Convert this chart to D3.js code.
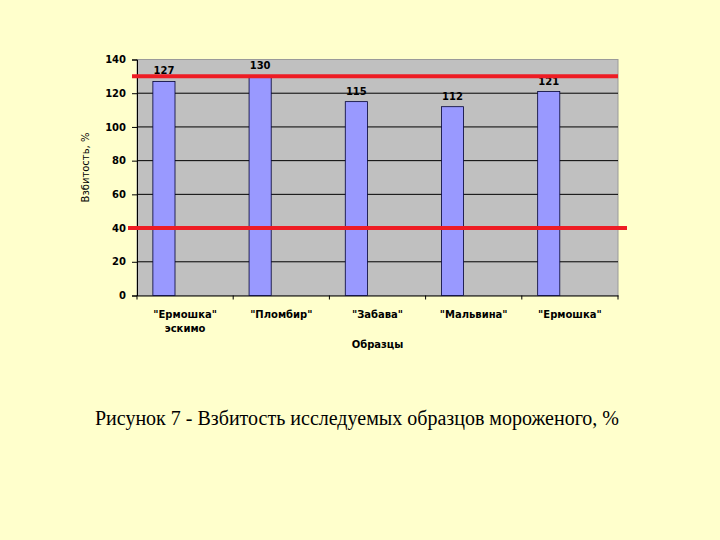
<!DOCTYPE html>
<html>
<head>
<meta charset="utf-8">
<script src="https://cdn.jsdelivr.net/npm/d3@7"></script>
<style>
  body { margin: 0; background: #ffffcc; }
  svg { display: block; }
</style>
</head>
<body>
<svg class="chart" width="720" height="540"></svg>
<script>
// data
const categories = ['"Ермошка"\nэскимо', '"Пломбир"', '"Забава"', '"Мальвина"', '"Ермошка"'];
const values = [127, 130, 115, 112, 121];
const limits = [130, 40];
const yTicks = [0, 20, 40, 60, 80, 100, 120, 140];
const yTitle = "Взбитость, %";
const xTitle = "Образцы";
const caption = "Рисунок 7 - Взбитость исследуемых образцов мороженого, %";

const svg = d3.select(".chart");
const plotLeft = 137, plotRight = 618, plotTop = 59.5, plotBottom = 295.5;

const x = d3.scaleBand().domain(d3.range(categories.length)).range([plotLeft, plotRight]);
const y = d3.scaleLinear().domain([0, 140]).range([plotBottom, plotTop]);

// plot area
svg.append("rect")
    .attr("x", plotLeft).attr("y", plotTop)
    .attr("width", plotRight - plotLeft).attr("height", plotBottom - plotTop)
    .attr("fill", "#c0c0c0")
    .attr("stroke", "#9a9a9a");

// gridlines
svg.selectAll(".grid")
    .data(yTicks.filter(d => d > 0 && d < 140))
    .enter().append("line")
    .attr("x1", plotLeft).attr("x2", plotRight)
    .attr("y1", d => y(d)).attr("y2", d => y(d))
    .attr("stroke", "#000").attr("stroke-width", 1);

// y axis
const yAxis = svg.append("g")
    .attr("transform", `translate(${plotLeft},0)`)
    .call(d3.axisLeft(y).tickValues(yTicks).tickSize(5).tickPadding(6));
yAxis.select(".domain").attr("stroke", "#000");
yAxis.selectAll("text")
    .attr("font-family", "DejaVu Sans").attr("font-size", 10).attr("font-weight", "bold").attr("fill", "#000");

// x axis
const xAxis = svg.append("g")
    .attr("transform", `translate(0,${plotBottom})`)
    .call(d3.axisBottom(x).tickSize(0).tickFormat(""));
xAxis.select(".domain").attr("stroke", "#000");
xAxis.selectAll(".cat-tick")
    .data(d3.range(categories.length + 1))
    .enter().append("line")
    .attr("x1", i => plotLeft + i * x.step()).attr("x2", i => plotLeft + i * x.step())
    .attr("y1", 0).attr("y2", 4)
    .attr("stroke", "#000");

// bars
const barOff = x.bandwidth() * 0.165, barW = x.bandwidth() * 0.23;
svg.selectAll(".bar")
    .data(values)
    .enter().append("rect")
    .attr("class", "bar")
    .attr("x", (d, i) => x(i) + barOff)
    .attr("y", d => y(d))
    .attr("width", barW)
    .attr("height", d => plotBottom - y(d))
    .attr("fill", "#9999ff")
    .attr("stroke", "#000033")
    .attr("stroke-width", 0.8);

// value labels
svg.selectAll(".val")
    .data(values)
    .enter().append("text")
    .attr("x", (d, i) => x(i) + barOff + barW / 2)
    .attr("y", d => y(d) - 7)
    .attr("text-anchor", "middle")
    .attr("font-family", "DejaVu Sans").attr("font-size", 10).attr("font-weight", "bold")
    .text(d => d);

// red limit lines
svg.selectAll(".limit")
    .data(limits)
    .enter().append("line")
    .attr("x1", (d, i) => i === 0 ? 132 : 128)
    .attr("x2", (d, i) => i === 0 ? plotRight : 627)
    .attr("y1", d => y(d)).attr("y2", d => y(d))
    .attr("stroke", "#ee1c24").attr("stroke-width", 4);

// category labels
categories.forEach((c, i) => {
    const t = svg.append("text")
        .attr("x", x(i) + x.bandwidth() / 2)
        .attr("y", 318)
        .attr("text-anchor", "middle")
        .attr("font-family", "DejaVu Sans").attr("font-size", 10).attr("font-weight", "bold");
    c.split("\n").forEach((line, k) => {
        t.append("tspan").attr("x", x(i) + x.bandwidth() / 2).attr("dy", k ? 14 : 0).text(line);
    });
});

svg.append("text")
    .attr("x", (plotLeft + plotRight) / 2).attr("y", 348)
    .attr("text-anchor", "middle")
    .attr("font-family", "DejaVu Sans").attr("font-size", 10).attr("font-weight", "bold")
    .text(xTitle);

svg.append("text")
    .attr("transform", `translate(89,${(plotTop + plotBottom) / 2 - 10}) rotate(-90)`)
    .attr("text-anchor", "middle")
    .attr("font-family", "DejaVu Sans").attr("font-size", 10)
    .text(yTitle);

svg.append("text")
    .attr("x", 357).attr("y", 425)
    .attr("text-anchor", "middle")
    .attr("font-family", "Liberation Serif").attr("font-size", 20)
    .text(caption);
</script>
</body>
</html>
